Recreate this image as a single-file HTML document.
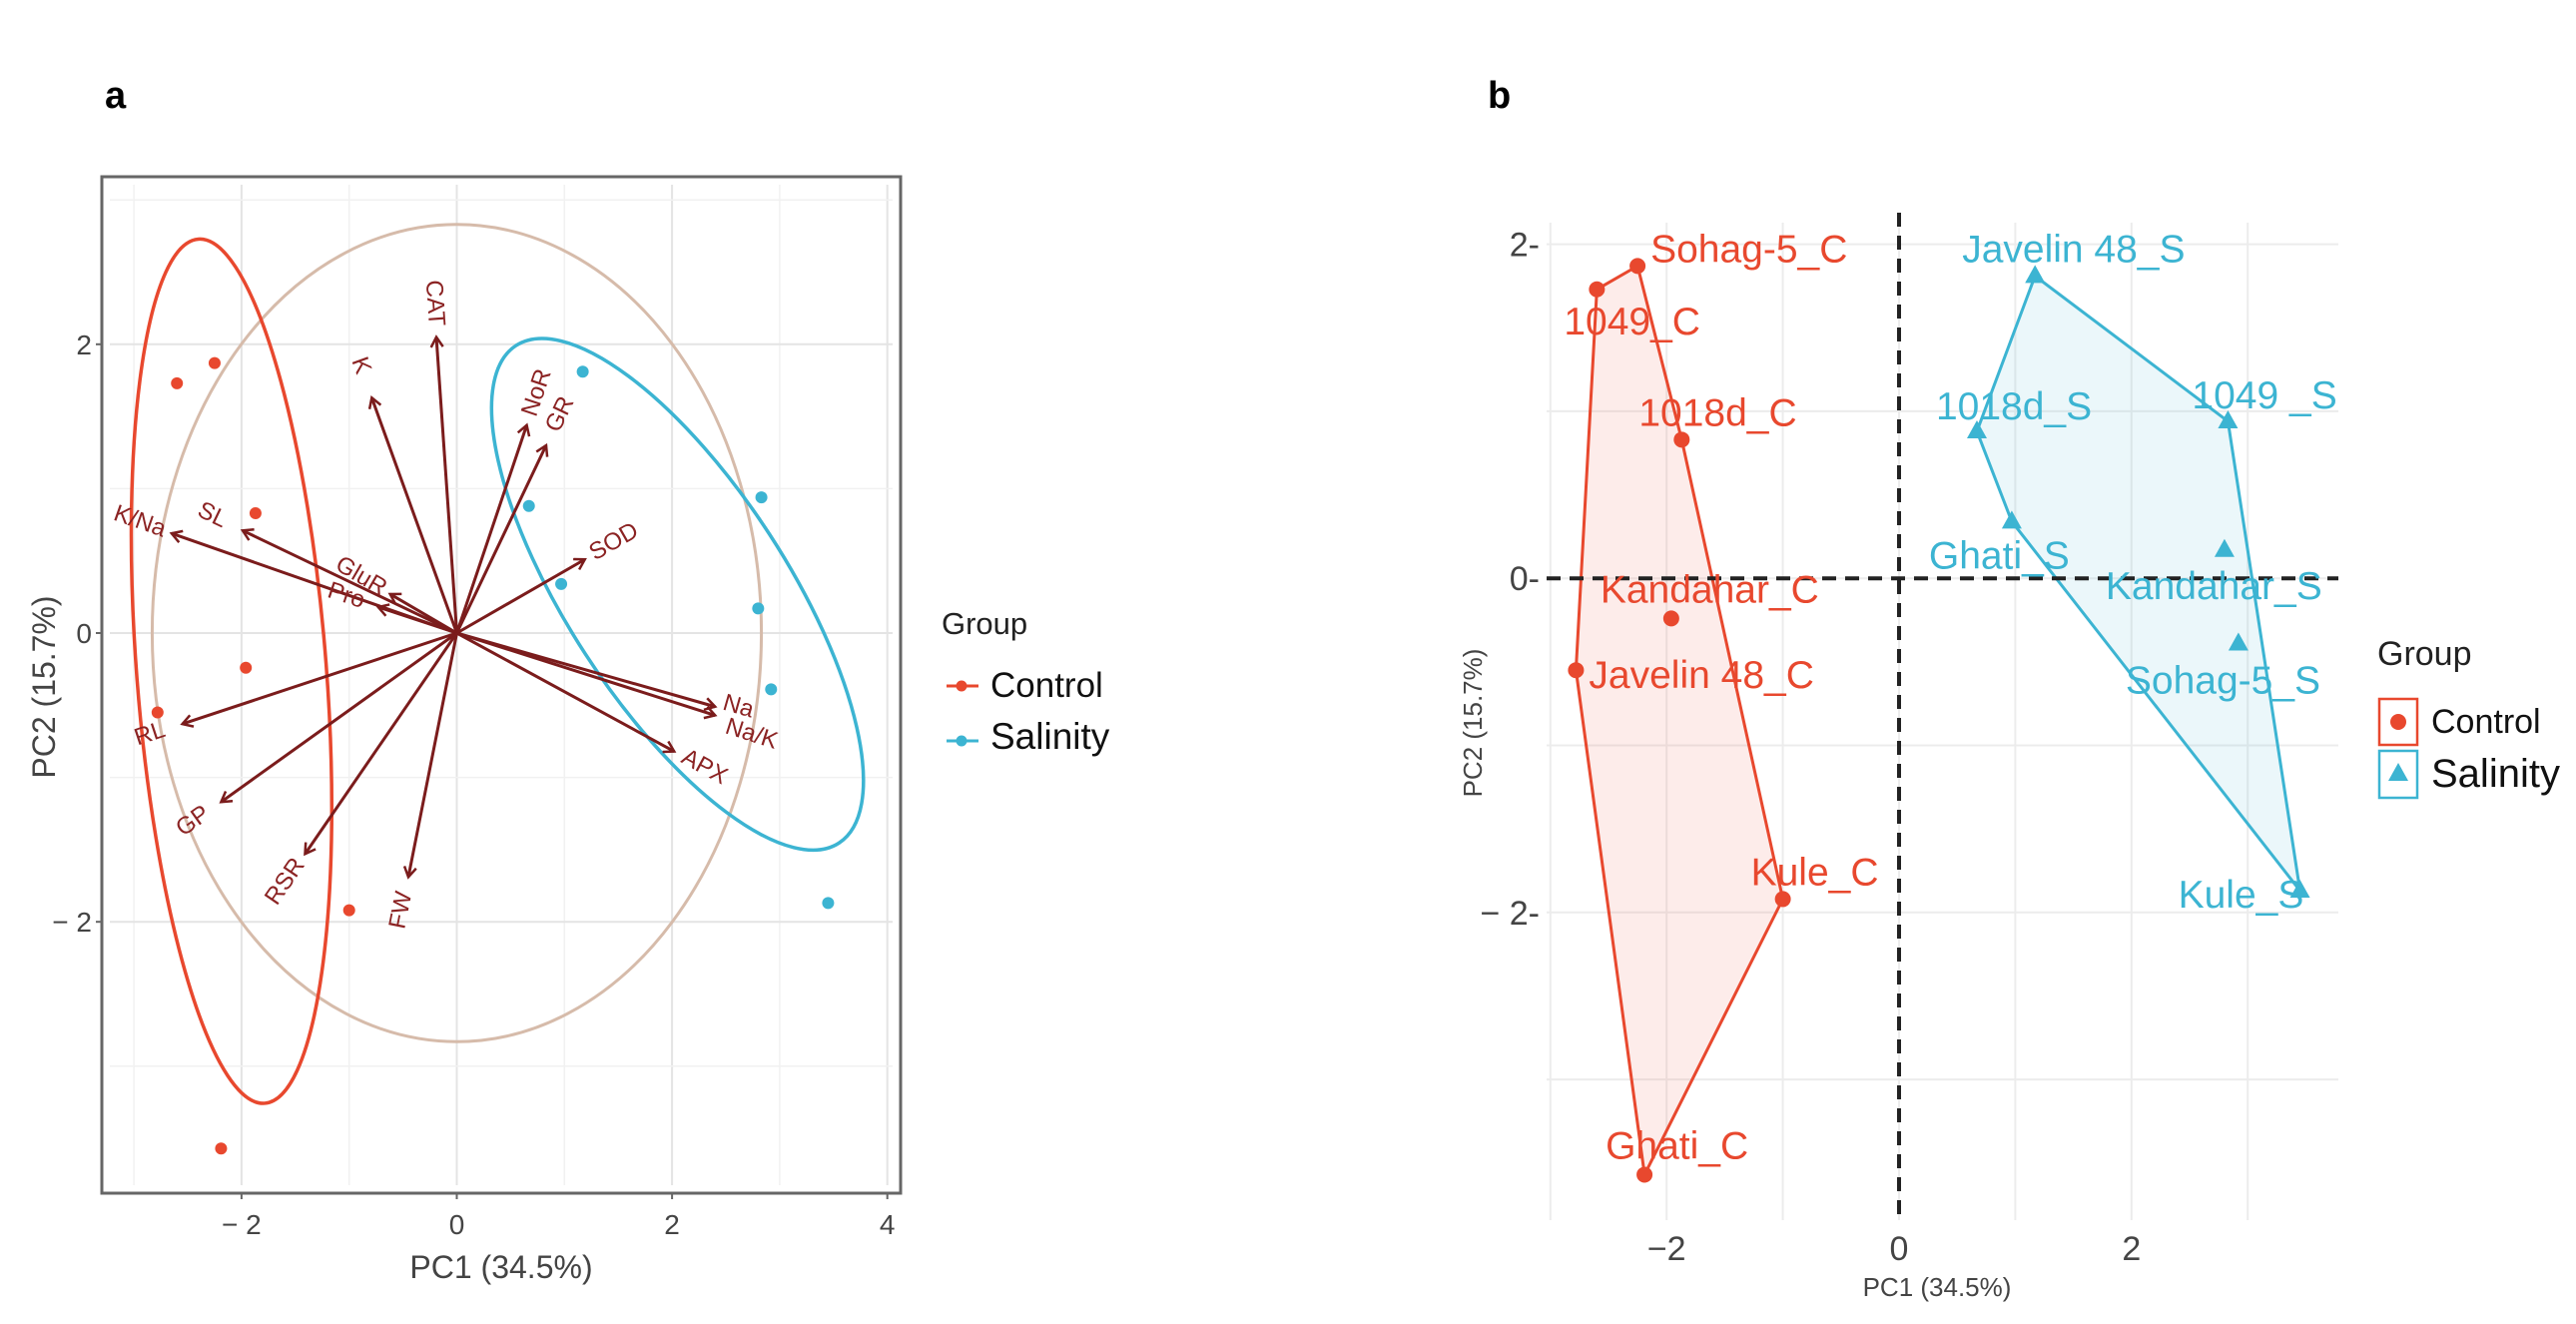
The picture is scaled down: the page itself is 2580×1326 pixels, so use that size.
<!DOCTYPE html>
<html><head><meta charset="utf-8">
<style>
html,body{margin:0;padding:0;background:#fff;}
svg{display:block;font-family:"Liberation Sans",sans-serif;}
</style></head>
<body>
<svg id="fig" width="2580" height="1326" viewBox="0 0 2580 1326" xmlns="http://www.w3.org/2000/svg">
  <text x="105" y="108" font-size="38" font-weight="bold">a</text>
  <text x="1490" y="108" font-size="38" font-weight="bold">b</text>
  <g id="pa"></g>
  <g id="pb"></g>
  <g>
    <text x="943" y="635" font-size="31" fill="#222">Group</text>
    <line x1="948" y1="687" x2="980" y2="687" stroke="#e8482e" stroke-width="3"/>
    <circle cx="963" cy="687" r="5.5" fill="#e8482e"/>
    <text x="992" y="698" font-size="35" fill="#111">Control</text>
    <line x1="948" y1="742" x2="980" y2="742" stroke="#3cb4d2" stroke-width="3"/>
    <circle cx="963" cy="742" r="5.5" fill="#3cb4d2"/>
    <text x="992" y="750" font-size="37" fill="#111">Salinity</text>
  </g>
  <g>
    <text x="2381" y="666" font-size="34" fill="#222">Group</text>
    <rect x="2383" y="700" width="38" height="46" fill="#fff" stroke="#e8482e" stroke-width="2.5"/>
    <circle cx="2402" cy="723" r="8" fill="#e8482e"/>
    <text x="2435" y="734" font-size="34" fill="#111">Control</text>
    <rect x="2383" y="752" width="38" height="47" fill="#fff" stroke="#3cb4d2" stroke-width="2.5"/>
    <polygon points="2402,764 2412,782 2392,782" fill="#3cb4d2"/>
    <text x="2435" y="788" font-size="40" fill="#111">Salinity</text>
  </g>
</svg>
<script>
// ---------- data ----------
const sampleNames = ["Sohag-5","1049","1018d","Kandahar","Javelin 48","Kule","Ghati"];
const controlPC1 = [-2.25,-2.60,-1.87,-1.96,-2.78,-1.00,-2.19];
const controlPC2 = [1.87,1.73,0.83,-0.24,-0.55,-1.92,-3.57];
const salinityNames = ["Javelin 48","1018d","Ghati","1049 ","Kandahar","Sohag-5","Kule"];
const salinityPC1 = [1.17,0.67,0.97,2.83,2.80,2.92,3.45];
const salinityPC2 = [1.81,0.88,0.34,0.94,0.17,-0.39,-1.87];
const varNames = ["CAT","K","NoR","GR","SOD","K/Na","SL","GluR","Pro","Na","Na/K","APX","RL","GP","RSR","FW"];
const varPC1 = [-0.19,-0.79,0.65,0.83,1.19,-2.65,-1.99,-0.62,-0.73,2.40,2.40,2.02,-2.55,-2.19,-1.41,-0.45];
const varPC2 = [2.05,1.63,1.44,1.30,0.51,0.69,0.71,0.27,0.18,-0.51,-0.57,-0.82,-0.63,-1.17,-1.53,-1.69];
const axisATicksX = [-2,0,2,4];
const axisATicksY = [-2,0,2];
const axisBTicksX = [-2,0,2];
const axisBTicksY = [-2,0,2];
const circleRadius = [2.83];

const NS="http://www.w3.org/2000/svg";
function mk(tag,attrs,parent,txt){const e=document.createElementNS(NS,tag);for(const k in attrs)e.setAttribute(k,attrs[k]);if(txt!==undefined)e.textContent=txt;parent.appendChild(e);return e;}
const RED="#e8482e", CYAN="#3cb4d2", AR="#7b1c1c";
function meanOf(a){return a.reduce((s,v)=>s+v,0)/a.length;}

// ---------- panel a ----------
const pa=document.getElementById('pa');
const UXA=107.8, UYA=144.6;
const ax=x=>457.5+x*UXA, ay=y=>634-y*UYA;
const A={l:102,r:902,t:177,b:1195};
const gridA=mk('g',{},pa);

for(let v=-3;v<=4;v++){const x=ax(v);if(x<A.l||x>A.r)continue;
  const l=mk('line',{x1:x,x2:x,y1:A.t+8,y2:A.b-8,stroke:v%2===0?'#e4e4e4':'#f1f1f1','stroke-width':v%2===0?2:1.5},gridA);
  }
for(let v=-3;v<=3;v++){const y=ay(v);if(y<A.t||y>A.b)continue;
  const l=mk('line',{y1:y,y2:y,x1:A.l+8,x2:A.r-8,stroke:v%2===0?'#e4e4e4':'#f1f1f1','stroke-width':v%2===0?2:1.5},gridA);
  }
let e=mk('rect',{x:A.l,y:A.t,width:A.r-A.l,height:A.b-A.t,fill:'none',stroke:'#666','stroke-width':3},pa);

axisATicksX.forEach(v=>{const t=mk('text',{x:ax(v),y:1236,'font-size':28,fill:'#444','text-anchor':'middle'},pa,(v<0?'\u2212 ':'')+Math.abs(v));
  
  const k=mk('line',{x1:ax(v),x2:ax(v),y1:A.b,y2:A.b+6,stroke:'#666','stroke-width':2},pa);
  });
axisATicksY.forEach(v=>{const t=mk('text',{x:92,y:ay(v)+10,'font-size':28,fill:'#444','text-anchor':'end'},pa,(v<0?'\u2212 ':'')+Math.abs(v));
  
  const k=mk('line',{x1:A.l-6,x2:A.l,y1:ay(v),y2:ay(v),stroke:'#666','stroke-width':2},pa);
  });
e=mk('text',{x:502,y:1280,'font-size':32,fill:'#444','text-anchor':'middle'},pa,'PC1 (34.5%)');

e=mk('text',{x:0,y:0,'font-size':32,fill:'#444','text-anchor':'middle',transform:'translate(55,688) rotate(-90)'},pa,'PC2 (15.7%)');

// correlation circle
e=mk('ellipse',{cx:ax(0),cy:ay(0),rx:circleRadius[0]*UXA,ry:circleRadius[0]*UYA,fill:'none',stroke:'#d6bbaa','stroke-width':3},pa);

// group ellipses (centered on group means)
e=mk('ellipse',{cx:0,cy:0,rx:95,ry:434,fill:'none',stroke:RED,'stroke-width':3.5,transform:`translate(${ax(meanOf(controlPC1))},${ay(meanOf(controlPC2))}) rotate(-4.4)`},pa);

e=mk('ellipse',{cx:0,cy:0,rx:297,ry:110,fill:'none',stroke:CYAN,'stroke-width':3.5,transform:`translate(${ax(meanOf(salinityPC1))-7},${ay(meanOf(salinityPC2))}) rotate(57)`},pa);

// arrows
const defs=mk('defs',{},pa);
const mkr=mk('marker',{id:'ah',markerWidth:14,markerHeight:14,refX:11,refY:7,orient:'auto',markerUnits:'userSpaceOnUse'},defs);
mk('path',{d:'M1,1 L11,7 L1,13',fill:'none',stroke:AR,'stroke-width':2.5},mkr);
varNames.forEach((n,i)=>{
  const x2=ax(varPC1[i]),y2=ay(varPC2[i]),x1=ax(0),y1=ay(0);
  const l=mk('line',{x1,y1,x2,y2,stroke:AR,'stroke-width':3,'marker-end':'url(#ah)'},pa);
  
  
  const dx=x2-x1,dy=y2-y1,len=Math.hypot(dx,dy);let ang=Math.atan2(dy,dx)*180/Math.PI;
  if(ang>90)ang-=180; if(ang<-90)ang+=180;
  const off=(n==='Na')?24:(n==='Na/K'?38:34);
  const tx=x2+dx/len*off,ty=y2+dy/len*off+(n==='Na'?-6:(n==='Na/K'?8:0));
  const t=mk('text',{x:0,y:0,'font-size':24,fill:'#8b2323','text-anchor':'middle','dominant-baseline':'middle',transform:`translate(${tx},${ty}) rotate(${ang})`},pa,n);
  
  
});
// points
controlPC1.forEach((v,i)=>{const c=mk('circle',{cx:ax(v),cy:ay(controlPC2[i]),r:6,fill:RED},pa);
  });
salinityPC1.forEach((v,i)=>{const c=mk('circle',{cx:ax(v),cy:ay(salinityPC2[i]),r:6,fill:CYAN},pa);
  });

// ---------- panel b ----------
const pb=document.getElementById('pb');
const bx=x=>1902+x*116.4, by=y=>579.2-y*167.3;
const B={l:1549,r:2342,t:223,b:1222};
const gridB=mk('g',{},pb);

for(let v=-3;v<=3;v++){const x=bx(v);
  const l=mk('line',{x1:x,x2:x,y1:B.t,y2:B.b,stroke:'#ececec','stroke-width':2},gridB);
  }
for(let v=-3;v<=2;v++){const y=by(v);
  const l=mk('line',{y1:y,y2:y,x1:B.l,x2:B.r,stroke:'#ececec','stroke-width':2},gridB);
  }
axisBTicksX.forEach(v=>{const t=mk('text',{x:bx(v),y:1262,'font-size':34,fill:'#444','text-anchor':'middle'},pb,(v<0?'\u2212':'')+Math.abs(v));
  });
axisBTicksY.forEach(v=>{const t=mk('text',{x:1542,y:by(v)+12,'font-size':34,fill:'#444','text-anchor':'end'},pb,(v<0?'\u2212 ':'')+Math.abs(v)+'-');
  });
e=mk('text',{x:1940,y:1298,'font-size':26,fill:'#444','text-anchor':'middle'},pb,'PC1 (34.5%)');

e=mk('text',{x:0,y:0,'font-size':26,fill:'#444','text-anchor':'middle',transform:'translate(1484,724) rotate(-90)'},pb,'PC2 (15.7%)');

// hulls
function hull(xs,ys){const p=xs.map((x,i)=>[x,ys[i]]).sort((a,b)=>a[0]-b[0]||a[1]-b[1]);
  const cr=(o,a,b)=>(a[0]-o[0])*(b[1]-o[1])-(a[1]-o[1])*(b[0]-o[0]);
  const lo=[],up=[];for(const q of p){while(lo.length>=2&&cr(lo[lo.length-2],lo[lo.length-1],q)<=0)lo.pop();lo.push(q);}
  for(let i=p.length-1;i>=0;i--){const q=p[i];while(up.length>=2&&cr(up[up.length-2],up[up.length-1],q)<=0)up.pop();up.push(q);}
  lo.pop();up.pop();return lo.concat(up);}
e=mk('polygon',{points:hull(controlPC1,controlPC2).map(p=>bx(p[0])+','+by(p[1])).join(' '),fill:'rgba(240,110,90,0.13)',stroke:RED,'stroke-width':3},pb);

e=mk('polygon',{points:hull(salinityPC1,salinityPC2).map(p=>bx(p[0])+','+by(p[1])).join(' '),fill:'rgba(60,180,210,0.10)',stroke:CYAN,'stroke-width':3},pb);

// reference lines
e=mk('line',{x1:bx(0),x2:bx(0),y1:B.t-10,y2:B.b,stroke:'#222','stroke-width':4,'stroke-dasharray':'14,9'},pb);

e=mk('line',{x1:B.l,x2:B.r,y1:by(0),y2:by(0),stroke:'#222','stroke-width':4,'stroke-dasharray':'14,9'},pb);

// label offsets (layout only)
const cOff=[[13,-4],[-33,45],[-43,-14],[-71,-16],[13,18],[-32,-14],[-39,-16]];
const sOff=[[-73,-14],[-41,-12],[-83,47],[-36,-13],[-119,49],[-113,50],[-122,17]];
controlPC1.forEach((v,i)=>{const x=bx(v),y=by(controlPC2[i]);
  const c=mk('circle',{cx:x,cy:y,r:8,fill:RED},pb);
  
  const t=mk('text',{x:x+cOff[i][0],y:y+cOff[i][1],'font-size':39,fill:RED},pb,sampleNames[i]+'_C');
  });
salinityPC1.forEach((v,i)=>{const x=bx(v),y=by(salinityPC2[i]);
  const c=mk('polygon',{points:`${x},${y-11} ${x+10},${y+7} ${x-10},${y+7}`,fill:CYAN},pb);
  
  const t=mk('text',{x:x+sOff[i][0],y:y+sOff[i][1],'font-size':39,fill:CYAN},pb,salinityNames[i]+'_S');
  });
</script>
</body></html>
